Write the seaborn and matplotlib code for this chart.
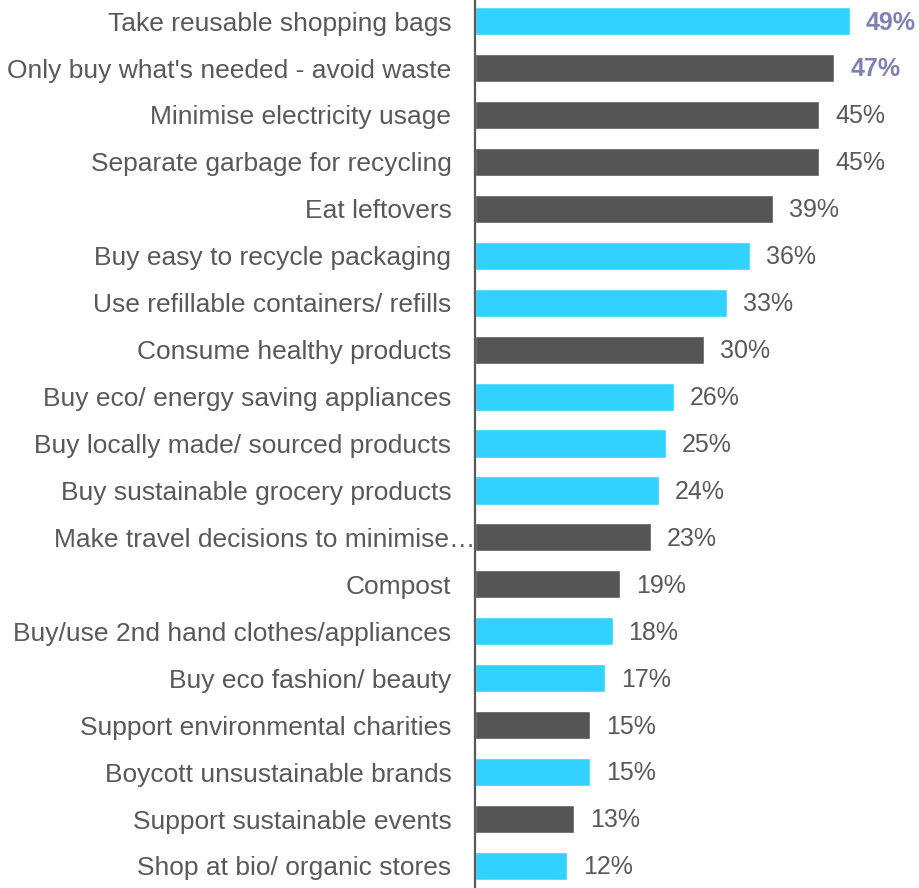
import matplotlib
matplotlib.use("Agg")
import matplotlib.pyplot as plt
from matplotlib.transforms import ScaledTranslation
import seaborn as sns
import pandas as pd

actions = [
    "Take reusable shopping bags",
    "Only buy what's needed - avoid waste",
    "Minimise electricity usage",
    "Separate garbage for recycling",
    "Eat leftovers",
    "Buy easy to recycle packaging",
    "Use refillable containers/ refills",
    "Consume healthy products",
    "Buy eco/ energy saving appliances",
    "Buy locally made/ sourced products",
    "Buy sustainable grocery products",
    "Make travel decisions to minimise\u2026",
    "Compost",
    "Buy/use 2nd hand clothes/appliances",
    "Buy eco fashion/ beauty",
    "Support environmental charities",
    "Boycott unsustainable brands",
    "Support sustainable events",
    "Shop at bio/ organic stores",
]
shares = [49, 47, 45, 45, 39, 36, 33, 30, 26, 25, 24, 23, 19, 18, 17, 15, 15, 13, 12]
groups = ["A", "B", "B", "B", "B", "A", "A", "B", "A", "A", "A", "B", "B", "A", "A", "B", "A", "B", "A"]
highlighted = [True, True] + [False] * 17

CYAN = "#31D2FF"
DARK = "#555555"
TEXT = "#595959"
ACCENT = "#7F80B4"

df = pd.DataFrame({"action": actions, "share": shares, "group": groups})

sns.set_theme(style="white")
plt.rcParams["font.family"] = ["Liberation Sans", "DejaVu Sans"]

fig = plt.figure(figsize=(9.2, 8.88), dpi=100)
ax = fig.add_axes([475 / 920, 0, 445 / 920, 1])

sns.barplot(data=df, x="share", y="action", hue="group",
            palette={"A": CYAN, "B": DARK}, dodge=False, width=0.6,
            legend=False, ax=ax, saturation=1)

ax.set_xlim(0, 58.2)
ax.set_ylim(len(actions) - 1 + 0.47, -0.45)
ax.set_xlabel("")
ax.set_ylabel("")
ax.set_xticks([])

for s in ["top", "right", "bottom"]:
    ax.spines[s].set_visible(False)
ax.spines["left"].set_color(TEXT)
ax.spines["left"].set_linewidth(1.6)

ax.tick_params(axis="y", length=0, pad=17, labelsize=19, labelcolor=TEXT)

# the truncated label runs up to the axis line
long_label = ax.get_yticklabels()[11]
long_label.set_transform(long_label.get_transform()
                         + ScaledTranslation(24 / 100, 0, fig.dpi_scale_trans))

for i, (v, hl) in enumerate(zip(shares, highlighted)):
    ax.annotate(f"{v}%", xy=(v, i), xytext=(11.5, -1), textcoords="offset points",
                va="center", ha="left", fontsize=18,
                color=ACCENT if hl else TEXT,
                fontweight="bold" if hl else "normal")

fig.savefig("out.png", dpi=100)
